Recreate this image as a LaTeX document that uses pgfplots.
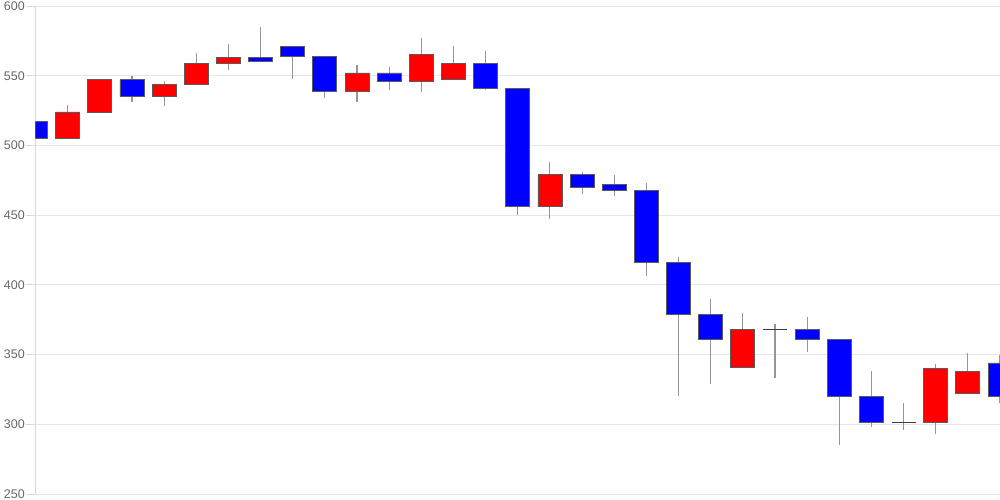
\documentclass[border=0pt]{standalone}
\usepackage{pgfplots}
\pgfplotsset{compat=1.18}
\usepackage{pgfplotstable}
\usepackage{fontspec}
\setmainfont{Liberation Sans}
\definecolor{upred}{RGB}{255,0,0}
\definecolor{dnblue}{RGB}{0,0,255}
\definecolor{gridc}{RGB}{230,230,230}
\definecolor{axisc}{RGB}{215,215,215}
\definecolor{tickc}{RGB}{102,102,102}
\definecolor{wickc}{RGB}{150,150,150}
\definecolor{edgec}{RGB}{90,90,90}
\definecolor{dojic}{RGB}{60,60,60}

\pgfplotstableread{
x o h l c
0 517 517 505 505
1 505 529 505 524
2 524 548 524 547
3 547 550 531 535
4 535 546 528 544
5 544 566 544 559
6 559 573 554 563
7 563 585 560 560
8 571 571 548 564
9 564 564 534 539
10 539 558 531 552
11 552 556 540 546
12 546 577 538 565
13 547 571 547 559
14 559 568 540 541
15 541 541 450 456
16 456 488 447 479
17 479 481 465 470
18 472 479 464 468
19 468 473 406 416
20 416 420 320 379
21 379 390 329 361
22 341 380 341 368
23 368 372 333 368
24 368 377 352 361
25 361 361 285 320
26 320 338 298 301
27 301 315 296 301
28 301 343 293 340
29 322 351 322 338
30 344 350 315 320
}\ohlc

\begin{document}
\begin{tikzpicture}[x=1pt,y=1pt]
\path[use as bounding box] (-35.5,-6) rectangle (964.5,494);
\begin{axis}[
  at={(0,0)}, anchor=south west, scale only axis,
  width=964.5pt, height=488pt,
  xmin=0, xmax=30, ymin=250, ymax=600,
  ytick={250,300,...,600}, xtick=\empty,
  axis x line=none, axis y line*=left,
  y axis line style={draw=axisc, line width=0.8pt},
  ymajorgrids, grid style={draw=gridc, line width=0.9pt},
  tick align=outside, ytick pos=left, major tick length=9pt,
  tick style={draw=axisc, line width=0.8pt},
  unbounded coords=discard,
  /pgf/number format/assume math mode=true,
  yticklabel style={font=\fontsize{12.5}{14}\selectfont, text=tickc, inner sep=0pt, xshift=-1.5pt},
]
\addplot[draw=none, mark=none, forget plot, error bars/.cd, y dir=plus, y explicit, error mark=none,
  error bar style={draw=wickc, line width=1.1pt}]
  table[x=x, y=l, y error expr={\thisrow{h}-\thisrow{l}}] {\ohlc};
% doji candles (open = close): horizontal line of body width
\addplot[draw=none, mark=none, forget plot, error bars/.cd, x dir=both, x fixed=0.373, error mark=none,
  error bar style={draw=dojic, line width=1.2pt}]
  table[x=x, y expr={\thisrow{o}==\thisrow{c} ? \thisrow{o} : nan}] {\ohlc};
\end{axis}
\begin{axis}[
  at={(0,0)}, anchor=south west, scale only axis,
  width=964.5pt, height=488pt,
  xmin=0, xmax=30, ymin=250, ymax=600,
  axis lines=none, ybar stacked, bar width=24pt,
]
\addplot[draw=none, fill=none, forget plot] table[x=x, y expr={min(\thisrow{o},\thisrow{c})}] {\ohlc};
\addplot[fill=upred, draw=edgec, line width=0.8pt] table[x=x, y expr={max(\thisrow{c}-\thisrow{o},0)}] {\ohlc};
\addplot[fill=dnblue, draw=edgec, line width=0.8pt] table[x=x, y expr={max(\thisrow{o}-\thisrow{c},0)}] {\ohlc};
\end{axis}
\end{tikzpicture}
\end{document}
